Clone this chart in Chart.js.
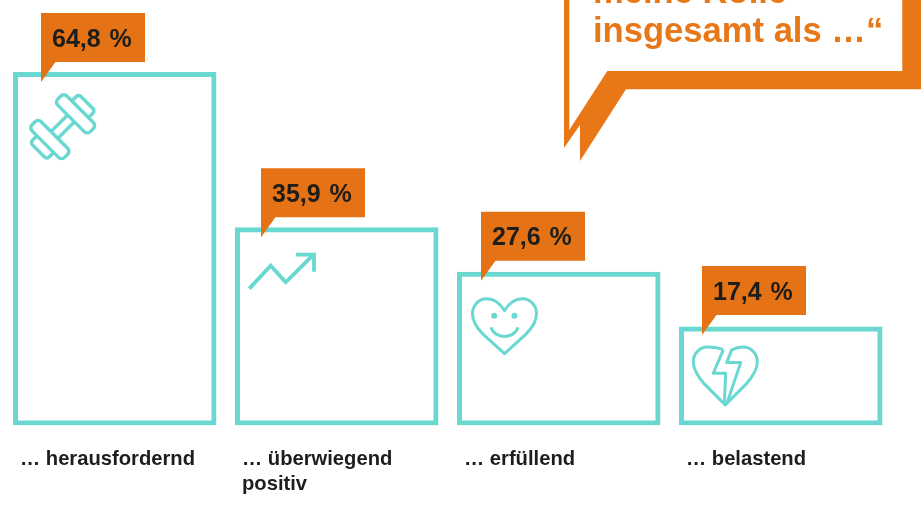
<!DOCTYPE html>
<html lang="de">
<head>
  <meta charset="UTF-8" />
  <title>Rolle insgesamt</title>
  <script src="https://cdn.jsdelivr.net/npm/chart.js"></script>
  <style>
    html, body { margin: 0; padding: 0; background: #fff; }
    canvas { display: block; }
  </style>
</head>
<body>
  <canvas id="grafico" width="921" height="505"></canvas>
  <script>
    const categorias = [["… herausfordernd"], ["… überwiegend", "positiv"], ["… erfüllend"], ["… belastend"]];
    const valores = [64.8, 35.9, 27.6, 17.4];
    const rotulos = ["64,8 %", "35,9 %", "27,6 %", "17,4 %"];
    const titulo = ["meine Rolle", "insgesamt als …“"];

    const TURQUESA = "#68d8d0";
    const LARANJA = "#e57214";
    const LARANJA_BALAO = "#e87718";
    const ESCURO = "#1d1d1b";
    const FONTE = '"Liberation Sans", Arial, sans-serif';
    const Y_MIN = -1.06;
    const RECUO_ETIQUETA = [28, 26, 24, 23];
    const SUBIDA_ETIQUETA = [59, 59, 60, 60.4];

    // contorno do coracao, relativo ao topo central
    function lobos(c) {
      c.moveTo(0, 14);
      c.bezierCurveTo(-4, 7, -10, 2, -18, 2);
      c.bezierCurveTo(-26, 2, -32, 9, -32, 17);
      c.bezierCurveTo(-32, 25, -27, 32, -21, 38);
      c.lineTo(0, 57);
      c.lineTo(21, 38);
      c.bezierCurveTo(27, 32, 32, 25, 32, 17);
      c.bezierCurveTo(32, 9, 26, 2, 18, 2);
      c.bezierCurveTo(10, 2, 4, 7, 0, 14);
      c.closePath();
    }

    function halter(c, x, y) {
      c.save();
      c.translate(x + 49.7, y + 54.7);
      c.rotate(-Math.PI / 4);
      c.scale(1.07, 1.07);
      c.lineWidth = 3.2;
      [1, -1].forEach(function (s) {
        c.beginPath();
        c.roundRect(s > 0 ? 11 : -23, -21.5, 12, 43, 4);
        c.stroke();
        c.beginPath();
        c.moveTo(s * 23, -11);
        c.lineTo(s * 29, -11);
        c.arcTo(s * 32, -11, s * 32, -8, 3);
        c.lineTo(s * 32, 8);
        c.arcTo(s * 32, 11, s * 29, 11, 3);
        c.lineTo(s * 23, 11);
        c.stroke();
      });
      c.beginPath();
      c.moveTo(-11, -4.5); c.lineTo(11, -4.5);
      c.moveTo(-11, 4.5); c.lineTo(11, 4.5);
      c.stroke();
      c.restore();
    }

    function seta(c, x, y) {
      c.save();
      c.translate(x, y);
      c.lineWidth = 3.8;
      c.lineJoin = "miter";
      c.beginPath();
      c.moveTo(14.3, 61.5); c.lineTo(35.7, 38.5); c.lineTo(50.7, 55.2); c.lineTo(78.5, 27.5);
      c.moveTo(61, 27.5); c.lineTo(79, 27.5); c.lineTo(79, 44.5);
      c.stroke();
      c.restore();
    }

    function coracaoSorriso(c, x, y) {
      c.save();
      c.translate(x + 47.5, y + 25);
      c.lineWidth = 3;
      c.beginPath();
      lobos(c);
      c.stroke();
      c.beginPath();
      c.moveTo(-13.5, 30.7);
      c.bezierCurveTo(-10, 42.7, 10, 42.7, 13.5, 30.7);
      c.stroke();
      c.beginPath();
      c.arc(-10.3, 19, 3, 0, Math.PI * 2);
      c.fill();
      c.beginPath();
      c.arc(10, 19, 3, 0, Math.PI * 2);
      c.fill();
      c.restore();
    }

    function coracaoPartido(c, x, y) {
      c.save();
      c.translate(x + 46.3, y + 18.5);
      c.lineWidth = 3;
      c.beginPath();
      c.moveTo(-2, 5);
      c.bezierCurveTo(-6, 3, -12, 2, -18, 2);
      c.bezierCurveTo(-26, 2, -32, 9, -32, 17);
      c.bezierCurveTo(-32, 25, -27, 32, -21, 39);
      c.lineTo(0, 60);
      c.lineTo(21, 39);
      c.bezierCurveTo(27, 32, 32, 25, 32, 17);
      c.bezierCurveTo(32, 9, 26, 2, 18, 2);
      c.bezierCurveTo(14, 2, 10, 3, 6.4, 5);
      c.lineTo(1.4, 17.7);
      c.lineTo(15.4, 17.7);
      c.lineTo(1.4, 59);
      c.moveTo(-2, 5);
      c.lineTo(-12, 28.3);
      c.lineTo(0.4, 28.3);
      c.lineTo(-1, 59);
      c.stroke();
      c.restore();
    }

    const icones = [halter, seta, coracaoSorriso, coracaoPartido];

    const extras = {
      id: "extras",
      afterDatasetsDraw(chart) {
        const c = chart.ctx;
        const barras = chart.getDatasetMeta(0).data;

        barras.forEach(function (b, i) {
          const esq = b.x - b.width / 2;
          const topo = b.y;

          // icone dentro da barra
          c.save();
          c.strokeStyle = TURQUESA;
          c.fillStyle = TURQUESA;
          c.lineJoin = "round";
          icones[i](c, esq, topo);
          c.restore();

          // etiqueta laranja com o percentual
          const bx = esq + RECUO_ETIQUETA[i];
          const by = topo - SUBIDA_ETIQUETA[i];
          c.fillStyle = LARANJA;
          c.beginPath();
          c.moveTo(bx, by);
          c.lineTo(bx + 104, by);
          c.lineTo(bx + 104, by + 49);
          c.lineTo(bx + 14.5, by + 49);
          c.lineTo(bx, by + 69);
          c.closePath();
          c.fill();

          c.fillStyle = ESCURO;
          c.font = "bold 25px " + FONTE;
          c.wordSpacing = "2px";
          c.textAlign = "left";
          c.textBaseline = "alphabetic";
          c.fillText(rotulos[i], bx + 11, by + 33.5);
          c.wordSpacing = "0px";
        });

        // balao do titulo, cortado no topo e na direita
        c.fillStyle = LARANJA_BALAO;
        c.beginPath();
        c.moveTo(564, -10); c.lineTo(921, -10); c.lineTo(921, 89.3); c.lineTo(626, 89.3);
        c.lineTo(580, 161); c.lineTo(580, 125); c.lineTo(564, 148); c.closePath();
        c.moveTo(569.3, -10); c.lineTo(569.3, 130); c.lineTo(607.3, 71); c.lineTo(902.3, 71);
        c.lineTo(902.3, -10); c.closePath();
        c.fill("evenodd");

        c.font = "bold 34.6px " + FONTE;
        c.textAlign = "left";
        c.fillText(titulo[0], 593, 2.5);
        c.fillText(titulo[1], 593, 41.5);
      }
    };

    new Chart(document.getElementById("grafico"), {
      type: "bar",
      data: {
        labels: categorias,
        datasets: [{
          data: valores,
          base: Y_MIN,
          backgroundColor: "transparent",
          borderColor: TURQUESA,
          borderWidth: 5,
          borderSkipped: false,
          barPercentage: 0.9167,
          categoryPercentage: 1
        }]
      },
      options: {
        responsive: false,
        animation: false,
        layout: { padding: { left: 3.75, right: 29.25, top: 0, bottom: 0 } },
        plugins: { legend: { display: false }, tooltip: { enabled: false } },
        scales: {
          y: { display: false, min: Y_MIN, max: 78.22 },
          x: {
            grid: { display: false, drawTicks: false },
            border: { display: false },
            afterFit(scale) {
              scale.height = 79.5;
              scale.paddingLeft = 0;
              scale.paddingRight = 0;
            },
            ticks: {
              align: "start",
              labelOffset: -94.75,
              padding: 21,
              maxRotation: 0,
              autoSkip: false,
              color: ESCURO,
              font: { family: FONTE, size: 20.2, weight: "bold", lineHeight: 1.24 }
            }
          }
        }
      },
      plugins: [extras]
    });
  </script>
</body>
</html>
